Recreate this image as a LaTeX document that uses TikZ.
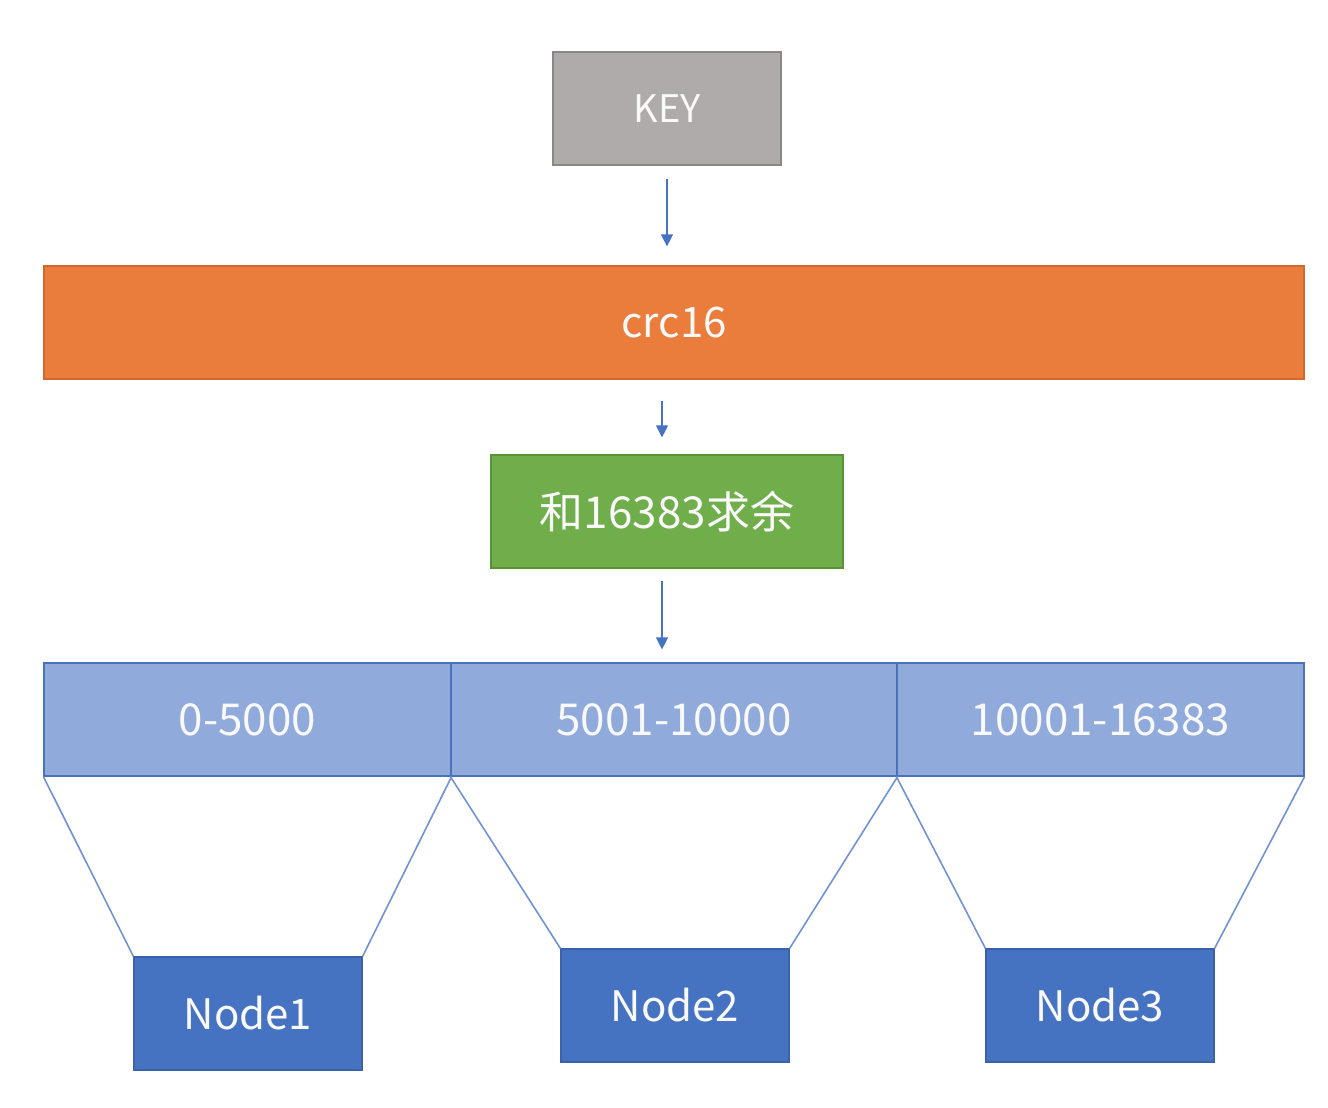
\documentclass[tikz,border=0pt]{standalone}
\usepackage{fontspec}
\setmainfont{Noto Sans CJK SC}
\usepackage{tikz}
\usetikzlibrary{arrows.meta}
\definecolor{keygray}{HTML}{AEABAA}
\definecolor{keyedge}{HTML}{8A8787}
\definecolor{crcorange}{HTML}{EB7D3C}
\definecolor{crcedge}{HTML}{D0692A}
\definecolor{modgreen}{HTML}{70AD4B}
\definecolor{modedge}{HTML}{5A9237}
\definecolor{slotblue}{HTML}{8FAADB}
\definecolor{slotedge}{HTML}{4A72B8}
\definecolor{nodeblue}{HTML}{4673C1}
\definecolor{nodeedge}{HTML}{3B62A8}
\definecolor{linkblue}{HTML}{6F93D3}
\newcommand{\boxh}{113}

\begin{document}
\begin{tikzpicture}[x=1pt,y=-1pt,
    blk/.style={draw, line width=1.2pt, inner sep=0pt, minimum height=\boxh pt,
      text=white!95!gray, font=\fontsize{42}{48}\selectfont},
    big/.style={font=\fontsize{44}{50}\selectfont},
    flow/.style={draw=nodeblue, line width=1.2pt, -{Triangle[width=12pt,length=12pt]}},
    link/.style={draw=linkblue, line width=1.6pt}]
  \useasboundingbox (0,0) rectangle (1328,1108);

      \node (key) at (667,108.5) [blk, fill=keygray, draw=keyedge, minimum width=228pt,
        font=\fontsize{38}{44}\selectfont] {KEY};
      \node (crc) at (674,322.5) [blk, fill=crcorange, draw=crcedge, minimum width=1260pt] {crc16};
      \node (mod) at (667,511.5) [blk, big, fill=modgreen, draw=modedge, minimum width=352pt] {和16383求余};

      \node (r1) at (247.5,719.5) [blk, big, fill=slotblue, draw=slotedge, minimum width=407pt] {0-5000};
      \node (r2) at (674,719.5)   [blk, big, fill=slotblue, draw=slotedge, minimum width=446pt] {5001-10000};
      \node (r3) at (1100.5,719.5) [blk, big, fill=slotblue, draw=slotedge, minimum width=407pt] {10001-16383};

      \node (n1) at (248,1013.5)  [blk, fill=nodeblue, draw=nodeedge, minimum width=228pt] {Node1};
      \node (n2) at (675,1005.5)  [blk, fill=nodeblue, draw=nodeedge, minimum width=228pt] {Node2};
      \node (n3) at (1100,1005.5) [blk, fill=nodeblue, draw=nodeedge, minimum width=228pt] {Node3};

      \draw[flow, shorten <=13pt, shorten >=19pt] (key.south) to (key.south |- crc.north);
      \draw[flow, shorten <=21pt, shorten >=17pt] ([xshift=-5]mod.north |- crc.south) to ([xshift=-5]mod.north);
      \draw[flow, shorten <=12pt, shorten >=13pt] ([xshift=-5]mod.south) to ([xshift=-5]mod.south |- r2.north);

      \foreach \i in {1,2,3}
        \draw[link] (r\i.south west) to (n\i.north west) (r\i.south east) to (n\i.north east);

  \end{tikzpicture}
\end{document}
